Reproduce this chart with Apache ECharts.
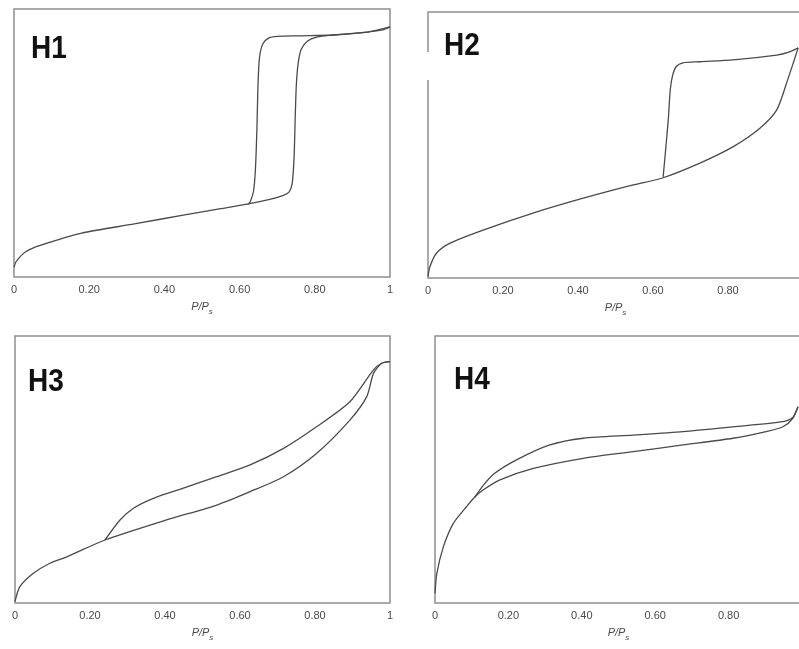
<!DOCTYPE html>
<html>
<head>
<meta charset="utf-8">
<script src="https://cdn.jsdelivr.net/npm/echarts@6/dist/echarts.min.js"></script>
<style>html,body{margin:0;padding:0;background:#fff;}#c{width:799px;height:649px;}</style>
</head>
<body>
<div id="c"></div>
<script>
// Panel labels
const panelNames = ['H1', 'H2', 'H3', 'H4'];
// x-axis tick labels
const xTicks = [0, 0.2, 0.4, 0.6, 0.8, 1];
const xTickLabels = ['0', '0.20', '0.40', '0.60', '0.80', '1'];

// H1 — [P/Ps, relative amount adsorbed (0–100)]
const h1Ads = [[0,3.7],[0.005,5.6],[0.016,7.5],[0.03,9.3],[0.05,10.8],[0.096,13],[0.18,16.4],[0.32,19.8],[0.45,23.1],[0.55,25.5],[0.62,27.2],[0.68,29],[0.715,30.4],[0.732,31.8],[0.74,35],[0.745,45],[0.748,60],[0.751,72],[0.756,80],[0.764,85],[0.78,88],[0.805,89.5],[0.85,90.3],[0.94,91.4],[0.98,92.2],[1,93.3]];
const h1Des = [[1,93.3],[0.94,91.4],[0.85,90.3],[0.76,90],[0.70,89.8],[0.678,89.2],[0.662,87],[0.653,82],[0.649,72],[0.646,55],[0.642,40],[0.637,32],[0.628,28],[0.622,27.1]];

// H2
const h2Ads = [[0,0.5],[0.005,4.2],[0.023,9.4],[0.059,13.1],[0.147,18],[0.28,24.4],[0.414,30],[0.547,35],[0.623,37.5],[0.725,43.2],[0.814,49.4],[0.885,56.3],[0.93,63.2],[0.956,73.2],[0.974,80.8],[0.987,86.5]];
const h2Des = [[0.987,86.5],[0.96,84.8],[0.93,83.8],[0.814,82],[0.725,81.3],[0.68,80.9],[0.662,79.5],[0.652,76],[0.646,70.7],[0.641,60],[0.636,51.9],[0.631,44],[0.627,38]];

// H3
const h3Ads = [[0,0.5],[0.013,6.1],[0.049,11.1],[0.093,14.9],[0.138,17.3],[0.24,23.6],[0.404,31.1],[0.538,36.7],[0.627,41.7],[0.716,47.3],[0.804,56],[0.893,68.5],[0.938,77.3],[0.956,86],[0.978,89.8],[1,90.4]];
const h3Des = [[1,90.4],[0.978,89.8],[0.956,87.3],[0.893,75.4],[0.804,66],[0.716,57.9],[0.627,51.7],[0.538,47.3],[0.449,43],[0.369,39.2],[0.316,35.5],[0.28,31.1],[0.24,23.6]];

// H4
const h4Ads = [[0,3.6],[0.005,11.1],[0.023,21.1],[0.05,29.8],[0.086,36.1],[0.108,39.6],[0.13,42.2],[0.177,46.1],[0.268,50.4],[0.404,54.2],[0.54,56.7],[0.676,59.2],[0.812,61.7],[0.902,64.2],[0.948,66],[0.975,69.2],[0.989,73.5]];
const h4Des = [[0.989,73.5],[0.975,69.5],[0.948,67.9],[0.812,66],[0.676,64.2],[0.54,62.9],[0.404,61.7],[0.313,59.2],[0.222,53.6],[0.16,48.3],[0.13,43.8],[0.108,39.6]];

const branches = [[h1Ads, h1Des], [h2Ads, h2Des], [h3Ads, h3Des], [h4Ads, h4Des]];

const grids = [
  {left: 14, top: 9, width: 376, height: 268},
  {left: 428, top: 12, width: 375, height: 266},
  {left: 15, top: 336, width: 375, height: 267},
  {left: 435, top: 336, width: 367, height: 267}
];
const titlePos = [[31, 33], [444, 30], [28, 366], [454, 364]];

const chart = echarts.init(document.getElementById('c'), null, {renderer: 'canvas'});
const option = {
  animation: false,
  backgroundColor: '#fff',
  graphic: panelNames.map((n, i) => ({
    type: 'text', x: titlePos[i][0], y: titlePos[i][1], scaleY: 1.15, z: 10,
    style: {text: n, font: 'bold 28px "Liberation Sans", Arial, sans-serif', fill: '#111', textVerticalAlign: 'top'}
  })).concat([{
    type: 'rect', shape: {x: 425, y: 52, width: 6, height: 28}, style: {fill: '#fff'}, z: 10
  }]),
  grid: grids.map(g => Object.assign({show: true, borderColor: '#8f8f8f', borderWidth: 1.5, backgroundColor: 'transparent', containLabel: false, outerBoundsMode: 'none'}, g)),
  xAxis: grids.map((g, i) => ({
    type: 'value', gridIndex: i, min: 0, max: 1, interval: 0.2,
    axisLine: {show: false}, axisTick: {show: false}, splitLine: {show: false},
    axisLabel: {
      margin: 7, fontSize: 11, color: '#4a4a4a', fontFamily: 'Liberation Sans, Arial, sans-serif',
      showMinLabel: true, showMaxLabel: true,
      formatter: v => { const k = xTicks.findIndex(t => Math.abs(t - v) < 1e-6); return k >= 0 ? xTickLabels[k] : ''; }
    },
    name: '{i|P/P}{s|s}', nameLocation: 'middle', nameGap: 24,
    nameTextStyle: {
      rich: {
        i: {fontStyle: 'italic', fontSize: 11, color: '#4a4a4a', fontFamily: 'Liberation Sans, Arial, sans-serif', lineHeight: 14, verticalAlign: 'top'},
        s: {fontStyle: 'italic', fontSize: 8, color: '#4a4a4a', fontFamily: 'Liberation Sans, Arial, sans-serif', lineHeight: 14, padding: [7, 0, 0, 0], verticalAlign: 'top'}
      }
    }
  })),
  yAxis: grids.map((g, i) => ({
    type: 'value', gridIndex: i, min: 0, max: 100,
    axisLine: {show: false}, axisTick: {show: false}, splitLine: {show: false}, axisLabel: {show: false}
  })),
  series: []
};
branches.forEach((pair, i) => {
  pair.forEach(data => {
    option.series.push({
      type: 'line', xAxisIndex: i, yAxisIndex: i, data: data, showSymbol: false, symbol: 'none',
      smooth: 0.25, lineStyle: {color: '#4a4a4a', width: 1.3}, clip: true, silent: true
    });
  });
});
chart.setOption(option);
</script>
</body>
</html>
